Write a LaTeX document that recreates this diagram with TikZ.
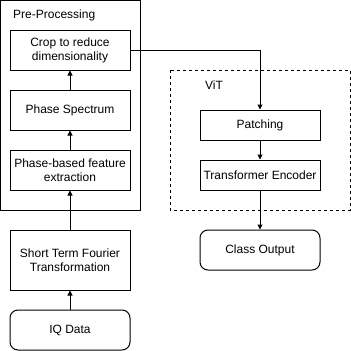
\documentclass[tikz,border=0pt]{standalone}
\usepackage{fontspec}
\setmainfont{Liberation Sans}
\usetikzlibrary{arrows.meta}
\begin{document}
\begin{tikzpicture}[x=1pt,y=-1pt,
  every node/.style={font=\fontsize{12}{14}\selectfont},
  box/.style={draw,line width=1pt,minimum width=120pt,minimum height=40pt,inner sep=0pt,align=center},
  rbox/.style={box,rounded corners=8pt},
  grp/.style={draw,line width=1pt},
  conn/.style={line width=1pt,-{Triangle[length=5pt,width=5pt]}}]
\useasboundingbox (0,0) rectangle (351,351);
\draw[grp] (0.5,0.5) rectangle (140,210);
\draw[grp,dashed,dash pattern=on 3pt off 3pt] (170,70) rectangle (350,210);
\node[anchor=west,inner sep=0pt] (lpre) at (13,15) {Pre-Processing};
\node[anchor=west,inner sep=0pt] (lvit) at (205,85) {ViT};
\node[box] (crop) at (70,50) {Crop to reduce\\dimensionality};
\node[box] (phase) at (70,110) {Phase Spectrum};
\node[box] (feat) at (70,170) {Phase-based feature\\extraction};
\node[box,minimum height=60pt] (stft) at (70,260) {Short Term Fourier\\Transformation};
\node[rbox] (iq) at (70,330) {IQ Data};
\node[box,minimum height=30pt] (patch) at (260,125) {Patching};
\node[box,minimum height=30pt] (enc) at (260,175) {Transformer Encoder};
\node[rbox] (out) at (260,250) {Class Output};
\draw[conn] (iq) -- (stft);
\draw[conn] (stft) -- (feat);
\draw[conn] (feat) -- (phase);
\draw[conn] (phase) -- (crop);
\draw[conn] (crop.east) -| (patch.north);
\draw[conn] (patch) -- (enc);
\draw[conn] (enc) -- (out);
\end{tikzpicture}
\end{document}
